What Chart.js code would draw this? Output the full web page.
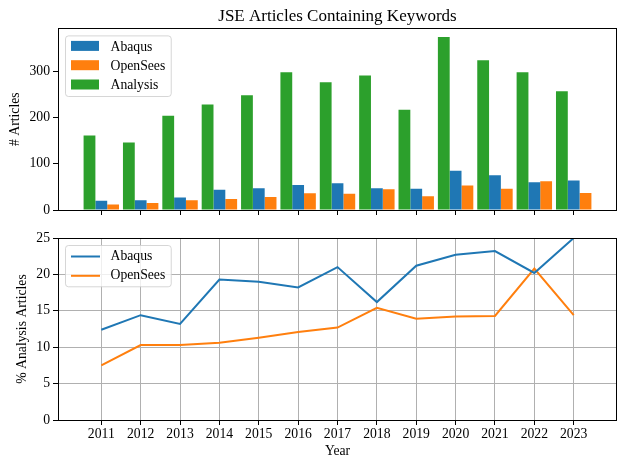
<!DOCTYPE html>
<html>
<head>
<meta charset="utf-8">
<script src="https://cdn.jsdelivr.net/npm/chart.js@4/dist/chart.umd.min.js"></script>
<style>
  html, body { margin: 0; padding: 0; background: #fff; }
  #wrap { position: relative; width: 630px; height: 469px; }
  #top { position: absolute; left: 0; top: 0; }
  #bottom { position: absolute; left: 0; top: 225px; }
</style>
</head>
<body>
<div id="wrap">
  <canvas id="top" width="630" height="225" style="width:630px;height:225px"></canvas>
  <canvas id="bottom" width="630" height="244" style="width:630px;height:244px"></canvas>
</div>
<script>
// data
const years = [2011, 2012, 2013, 2014, 2015, 2016, 2017, 2018, 2019, 2020, 2021, 2022, 2023];
const abaqusCount = [20, 21, 27, 44, 47, 54, 58, 47, 46, 85, 75, 60, 64];
const openseesCount = [12, 15, 21, 24, 28, 36, 35, 45, 30, 53, 46, 62, 37];
const analysisCount = [161, 146, 204, 228, 248, 298, 276, 291, 217, 374, 324, 298, 257];
const abaqusPct = [12.4, 14.4, 13.2, 19.3, 19.0, 18.2, 21.0, 16.2, 21.2, 22.7, 23.2, 20.2, 25.0];
const openseesPct = [7.5, 10.3, 10.3, 10.6, 11.3, 12.1, 12.7, 15.4, 13.9, 14.2, 14.3, 20.8, 14.4];
const countTicks = [0, 100, 200, 300];
const pctTicks = [0, 5, 10, 15, 20, 25];

const FONT = '"Liberation Serif", "DejaVu Serif", serif';
const FS = 13.7;
const BLUE = '#1f77b4', ORANGE = '#ff7f0e', GREEN = '#2ca02c';
const xMin = 2009.9, xMax = 2024.1;

const pts = (vals) => years.map((y, i) => ({ x: y, y: vals[i] }));

// black box round the plot area, like matplotlib spines
const framePlugin = {
    id: 'frame',
    afterDatasetsDraw(chart) {
        const a = chart.chartArea, ctx = chart.ctx;
        ctx.save();
        ctx.strokeStyle = '#000';
        ctx.lineWidth = 1;
        ctx.strokeRect(Math.round(a.left) + 0.5, Math.round(a.top) + 0.5,
            Math.round(a.right - a.left) - 1, Math.round(a.bottom - a.top));
        ctx.restore();
    }
};

// legend drawn inside the axes, upper left
const boxLegend = {
    id: 'boxLegend',
    afterDatasetsDraw(chart, args, opts) {
        if (!opts || !opts.order) return;
        const ctx = chart.ctx, a = chart.chartArea;
        const items = opts.order.map(i => chart.data.datasets[i]);
        ctx.save();
        ctx.font = FS + 'px ' + FONT;
        let maxW = 0;
        items.forEach(d => { maxW = Math.max(maxW, ctx.measureText(d.label).width); });
        const x = a.left + 7.5, y = a.top + 7.5;
        const w = 45 + maxW + 6, h = 22 + (items.length - 1) * 19.3;
        const r = 3;
        ctx.beginPath();
        ctx.moveTo(x + r, y);
        ctx.lineTo(x + w - r, y);
        ctx.arcTo(x + w, y, x + w, y + r, r);
        ctx.lineTo(x + w, y + h - r);
        ctx.arcTo(x + w, y + h, x + w - r, y + h, r);
        ctx.lineTo(x + r, y + h);
        ctx.arcTo(x, y + h, x, y + h - r, r);
        ctx.lineTo(x, y + r);
        ctx.arcTo(x, y, x + r, y, r);
        ctx.closePath();
        ctx.fillStyle = 'rgba(255,255,255,0.8)';
        ctx.fill();
        ctx.strokeStyle = 'rgba(204,204,204,0.8)';
        ctx.lineWidth = 1;
        ctx.stroke();
        items.forEach((d, k) => {
            const cy = y + 11 + k * 19.3;
            if (opts.kind === 'line') {
                ctx.strokeStyle = d.borderColor;
                ctx.lineWidth = 2;
                ctx.beginPath();
                ctx.moveTo(x + 5.5, cy);
                ctx.lineTo(x + 34.5, cy);
                ctx.stroke();
            } else {
                ctx.fillStyle = d.backgroundColor;
                ctx.fillRect(x + 5.5, cy - 6, 28, 10);
            }
            ctx.fillStyle = '#000';
            ctx.textBaseline = 'middle';
            ctx.textAlign = 'left';
            ctx.fillText(d.label, x + 45, cy);
        });
        ctx.restore();
    }
};

const tickFont = { family: FONT, size: FS };

function xAxis(showLabels, height) {
    return {
        type: 'linear', min: xMin, max: xMax, offset: false,
        grid: {
            display: true, drawOnChartArea: showLabels, offset: false,
            color: '#b0b0b0', lineWidth: 1, tickLength: 5, tickColor: '#000'
        },
        border: { display: false },
        ticks: { display: showLabels, color: '#000', font: tickFont, padding: 1, callback: v => String(v) },
        afterBuildTicks: s => { s.ticks = years.map(v => ({ value: v })); },
        title: showLabels ? {
            display: true, text: 'Year', color: '#000', font: tickFont, padding: { top: 0, bottom: 9 }
        } : { display: false },
        afterFit: s => { s.height = height; }
    };
}

function yAxis(min, max, tickVals, label, grid, titlePad) {
    return {
        min: min, max: max,
        grid: {
            drawOnChartArea: grid, color: '#b0b0b0', lineWidth: 1, tickLength: 5, tickColor: '#000'
        },
        border: { display: false },
        ticks: { color: '#000', font: tickFont, padding: 3 },
        afterBuildTicks: s => { s.ticks = tickVals.map(v => ({ value: v })); },
        title: { display: true, text: label, color: '#000', font: tickFont, padding: { top: titlePad, bottom: 0 } },
        afterFit: s => { s.width = 58; }
    };
}

new Chart(document.getElementById('top'), {
    type: 'bar',
    data: {
        datasets: [
            { label: 'Analysis', data: pts(analysisCount), backgroundColor: GREEN },
            { label: 'Abaqus', data: pts(abaqusCount), backgroundColor: BLUE },
            { label: 'OpenSees', data: pts(openseesCount), backgroundColor: ORANGE }
        ]
    },
    options: {
        responsive: false,
        animation: false,
        datasets: { bar: { barPercentage: 1, categoryPercentage: 0.9, borderWidth: 0 } },
        layout: { padding: { left: 0, right: 13, top: 0, bottom: 0 } },
        scales: {
            x: xAxis(false, 15),
            y: yAxis(0, 392.7, countTicks, '# Articles', false, 7)
        },
        plugins: {
            legend: { display: false },
            tooltip: { enabled: false },
            title: {
                display: true, fullSize: false, text: 'JSE Articles Containing Keywords', color: '#000',
                font: { family: FONT, size: 17, weight: 'normal' }, padding: { top: 6, bottom: 2 }
            },
            boxLegend: { order: [1, 2, 0], kind: 'patch' }
        }
    },
    plugins: [framePlugin, boxLegend]
});

new Chart(document.getElementById('bottom'), {
    type: 'line',
    data: {
        datasets: [
            { label: 'Abaqus', data: pts(abaqusPct), borderColor: BLUE, backgroundColor: BLUE },
            { label: 'OpenSees', data: pts(openseesPct), borderColor: ORANGE, backgroundColor: ORANGE }
        ]
    },
    options: {
        responsive: false,
        animation: false,
        elements: {
            line: { borderWidth: 2, tension: 0, fill: false },
            point: { radius: 0, hoverRadius: 0 }
        },
        layout: { padding: { left: 0, right: 13, top: 13, bottom: 0 } },
        scales: {
            x: xAxis(true, 49),
            y: yAxis(0, 25, pctTicks, '% Analysis Articles', true, 14)
        },
        plugins: {
            legend: { display: false },
            tooltip: { enabled: false },
            boxLegend: { order: [0, 1], kind: 'line' }
        }
    },
    plugins: [framePlugin, boxLegend]
});
</script>
</body>
</html>
